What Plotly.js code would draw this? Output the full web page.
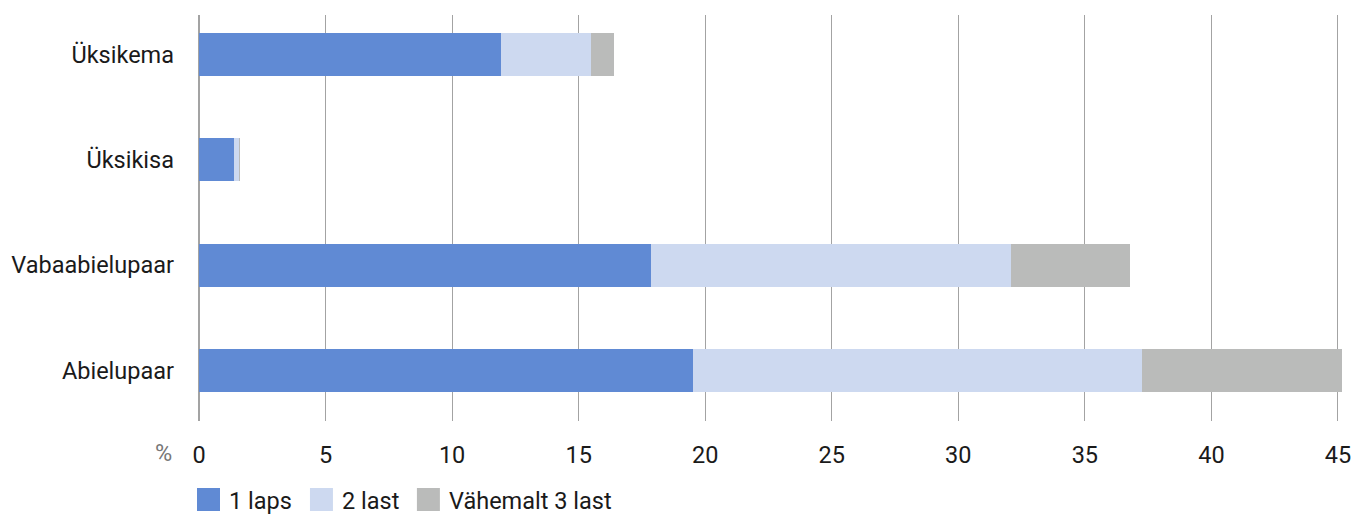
<!DOCTYPE html>
<html>
<head>
<meta charset="utf-8">
<script src="https://cdn.plot.ly/plotly-3.0.1.min.js"></script>
<style>html,body{margin:0;padding:0;background:#fff;}#chart{width:1352px;height:514px;}</style>
</head>
<body>
<div id="chart"></div>
<script>
// Categories (bottom to top)
const categories = ["Abielupaar", "Vabaabielupaar", "Üksikisa", "Üksikema"];
const seriesNames = ["1 laps", "2 last", "Vähemalt 3 last"];
const oneChild   = [19.5, 17.85, 1.38, 11.93];
const twoChildren = [17.75, 14.22, 0.2, 3.55];
const threePlus  = [7.9, 4.7, 0.05, 0.9];
const xTicks = [0, 5, 10, 15, 20, 25, 30, 35, 40, 45];
const colors = ["#608ad4", "#cdd9f0", "#babbba"];

const W = 1352, H = 514;
const mL = 199, mR = 8.5, mT = 15, mB = 93;
const pw = W - mL - mR, ph = H - mT - mB;
const px = x => (x - mL) / pw;
const py = y => (H - mB - y) / ph;
const FS = 23.5;

const values = [oneChild, twoChildren, threePlus];
const traces = values.map((v, i) => ({
  type: "bar",
  orientation: "h",
  name: seriesNames[i],
  y: categories,
  x: v,
  width: 0.41,
  marker: {color: colors[i], line: {width: 0}},
  hoverinfo: "x+name",
  showlegend: false
}));

// custom legend
const shapes = [];
const annotations = [];
const legendSquareX = [197, 310, 417];
seriesNames.forEach((n, i) => {
  const x0 = legendSquareX[i];
  shapes.push({type: "rect", xref: "paper", yref: "paper",
    x0: px(x0), x1: px(x0 + 23), y0: py(511), y1: py(488),
    fillcolor: colors[i], line: {width: 0}});
  annotations.push({xref: "paper", yref: "paper", x: px(x0 + 30), y: py(501),
    xanchor: "left", yanchor: "middle", showarrow: false, text: n,
    font: {family: "Roboto, sans-serif", size: FS, color: "#1a1a1a"}});
});
annotations.push({xref: "paper", yref: "paper", x: px(174), y: py(453),
  xanchor: "right", yanchor: "middle", showarrow: false, text: "%",
  font: {family: "Roboto, sans-serif", size: FS, color: "#777777"}});

const layout = {
  width: W, height: H,
  margin: {l: mL, r: mR, t: mT, b: mB, pad: 0},
  paper_bgcolor: "#ffffff", plot_bgcolor: "#ffffff",
  barmode: "stack",
  font: {family: "Roboto, sans-serif", size: FS, color: "#1a1a1a"},
  xaxis: {
    range: [0, 45.2], tickvals: xTicks, ticktext: xTicks.map(String),
    showgrid: true, gridcolor: "#a3a3a3", gridwidth: 1,
    zeroline: true, zerolinecolor: "#a3a3a3", zerolinewidth: 1.5,
    showline: false, ticks: "", ticklabelstandoff: 17,
    tickfont: {family: "Roboto, sans-serif", size: FS, color: "#1a1a1a"}
  },
  yaxis: {
    type: "category", categoryorder: "array", categoryarray: categories,
    range: [-0.48, 3.375], showgrid: false, zeroline: false, showline: false,
    ticks: "", ticklabelstandoff: 24,
    tickfont: {family: "Roboto, sans-serif", size: FS, color: "#1a1a1a"}
  },
  shapes: shapes,
  annotations: annotations,
  showlegend: false
};

Plotly.newPlot("chart", traces, layout, {displayModeBar: false, staticPlot: true});
</script>
</body>
</html>
